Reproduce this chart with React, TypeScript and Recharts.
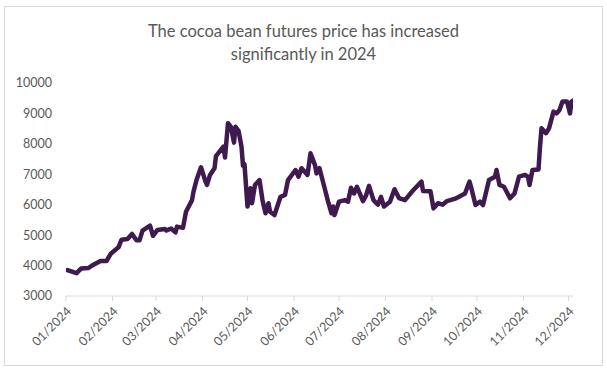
import React from 'react';
import { LineChart, Line, XAxis, YAxis } from 'recharts';

// Day of year (0 = 1 Jan 2024) for each observation
const days: number[] = [
  1, 7, 10, 15, 18, 23, 27, 30, 35, 37, 41, 44, 47, 49, 51, 56, 58, 61, 66, 67,
  70, 73, 74, 78, 80, 84, 85, 87, 90, 93, 94, 96, 99, 100, 104, 105, 106, 108, 110, 112,
  113, 115, 117, 118, 119, 121, 123, 124, 126, 129, 131, 133, 135, 136, 139, 143, 146, 148, 153, 155,
  157, 159, 161, 163, 166, 167, 169, 175, 177, 178, 179, 182, 186, 188, 190, 192, 194, 198, 200, 202,
  205, 208, 210, 212, 216, 219, 222, 226, 231, 237, 238, 243, 245, 248, 251, 254, 260, 262, 266, 269,
  270, 273, 276, 278, 282, 286, 287, 289, 292, 296, 299, 302, 306, 308, 309, 311, 315, 316, 317, 320,
  322, 325, 327, 329, 331, 334, 336, 337, 338,
];

// Cocoa futures price (USD/t)
const prices: number[] = [
  3850, 3750, 3900, 3920, 4020, 4150, 4150, 4400, 4600, 4850, 4870, 5040, 4830, 4830, 5150, 5310, 4980, 5170, 5200, 5150,
  5220, 5090, 5280, 5240, 5770, 6150, 6430, 6810, 7230, 6760, 6650, 6980, 7200, 7600, 7850, 7910, 7550, 8680, 8550, 8040,
  8560, 8430, 7910, 7280, 7330, 5940, 6540, 6050, 6650, 6810, 6150, 5720, 6050, 5770, 5660, 6260, 6320, 6810, 7140, 6920,
  7200, 7090, 6980, 7690, 7300, 7030, 7200, 6050, 5720, 5940, 5660, 6100, 6150, 6100, 6560, 6370, 6590, 6120, 6300, 6620,
  6150, 6000, 6260, 5940, 6100, 6510, 6220, 6150, 6450, 6760, 6450, 6440, 5880, 6050, 6000, 6120, 6210, 6260, 6370, 6760,
  6590, 5990, 6100, 5990, 6810, 6920, 7140, 6650, 6590, 6210, 6370, 6920, 6980, 6920, 6650, 7140, 7160, 7910, 8510, 8350,
  8510, 9060, 9000, 9110, 9390, 9390, 9000, 9390, 9420,
];

// Month starts (day of year) and their labels
const monthTicks: number[] = [0, 31, 60, 91, 121, 152, 182, 213, 244, 274, 305, 335];
const monthLabels: string[] = [
  '01/2024', '02/2024', '03/2024', '04/2024', '05/2024', '06/2024',
  '07/2024', '08/2024', '09/2024', '10/2024', '11/2024', '12/2024',
];
const yTicks: number[] = [3000, 4000, 5000, 6000, 7000, 8000, 9000, 10000];

const titleLines: string[] = [
  'The cocoa bean futures price has increased',
  'significantly in 2024',
];

const data = days.map((d, i) => ({ day: d, price: prices[i] }));

const FONT = 'Lato, "Open Sans", sans-serif';
const TEXT_COLOR = '#595959';

const XTick = (props: any) => {
  const { x, y, payload } = props;
  const idx = monthTicks.indexOf(payload.value);
  const label = idx >= 0 ? monthLabels[idx] : '';
  return (
    <g transform={`translate(${x + 3},${y + 6})`}>
      <text
        x={0}
        y={0}
        textAnchor="end"
        transform="rotate(-45)"
        fill={TEXT_COLOR}
        fontSize={12.5}
        fontFamily={FONT}
        dy="0.35em"
      >
        {label}
      </text>
    </g>
  );
};

export default function App() {
  return (
    <div
      style={{
        position: 'absolute',
        left: 0,
        top: 0,
        width: 607,
        height: 373,
        background: '#ffffff',
        overflow: 'hidden',
      }}
    >
      <div
        style={{
          position: 'absolute',
          left: 4,
          top: 6,
          width: 599,
          height: 360,
          border: '1px solid #d9d9d9',
          boxSizing: 'border-box',
        }}
      />
      <div
        style={{
          position: 'absolute',
          left: 0,
          top: 20,
          width: 607,
          textAlign: 'center',
          fontFamily: FONT,
          fontSize: 16.5,
          lineHeight: '23px',
          color: TEXT_COLOR,
        }}
      >
        {titleLines.map((t) => (
          <div key={t}>{t}</div>
        ))}
      </div>
      <div style={{ position: 'absolute', left: 0, top: 0 }}>
        <LineChart
          width={607}
          height={373}
          data={data}
          margin={{ top: 83, right: 34, bottom: 0, left: 0 }}
        >
          <XAxis
            dataKey="day"
            type="number"
            domain={[0, 338]}
            ticks={monthTicks}
            interval={0}
            height={77}
            axisLine={{ stroke: '#d9d9d9', strokeWidth: 1 }}
            tickLine={{ stroke: '#d9d9d9', strokeWidth: 1 }}
            tickSize={5}
            tick={<XTick />}
            allowDataOverflow
          />
          <YAxis
            type="number"
            domain={[3000, 10000]}
            ticks={yTicks}
            interval={0}
            width={66}
            axisLine={false}
            tickLine={false}
            tickSize={0}
            tickMargin={14}
            tick={{ fill: TEXT_COLOR, fontSize: 12.5, fontFamily: FONT }}
          />
          <Line
            type="linear"
            dataKey="price"
            stroke="#3f1a4f"
            strokeWidth={4.5}
            strokeLinejoin="round"
            strokeLinecap="round"
            dot={false}
            isAnimationActive={false}
          />
        </LineChart>
      </div>
    </div>
  );
}
